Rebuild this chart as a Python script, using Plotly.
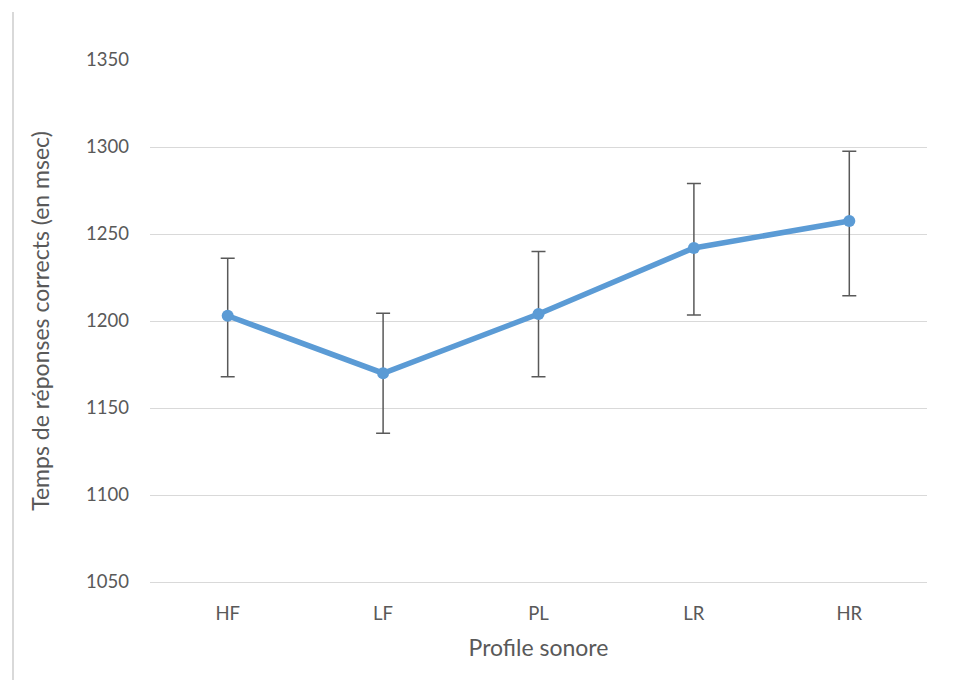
import plotly.graph_objects as go

profiles = ['HF', 'LF', 'PL', 'LR', 'HR']
mean_rt = [1203, 1170, 1204, 1242, 1257.5]
err_plus = [33, 34.5, 36, 37, 40]
err_minus = [35, 34.5, 36, 38.5, 43]

y_ticks = [1050, 1100, 1150, 1200, 1250, 1300, 1350]

font_name = 'Lato, Open Sans, sans-serif'
text_col = '#595959'

fig = go.Figure()
fig.add_trace(go.Scatter(
    x=profiles, y=mean_rt,
    mode='lines+markers',
    line=dict(color='#5B9BD5', width=5.5),
    marker=dict(color='#5B9BD5', size=12),
    error_y=dict(type='data', symmetric=False, array=err_plus, arrayminus=err_minus,
                 color='#595959', thickness=1.5, width=7),
    showlegend=False,
))

# page body has an 8px margin, so the figure is a bit smaller than the window
fig.update_layout(
    width=966, height=672,
    margin=dict(l=142, r=47, t=52, b=98),
    plot_bgcolor='white', paper_bgcolor='white',
    font=dict(family=font_name, size=18.5, color=text_col),
    xaxis=dict(
        title=dict(text='Profile sonore', font=dict(size=23, color=text_col), standoff=16),
        range=[-0.5, 4.5],
        showgrid=False, zeroline=False,
        showline=True, linecolor='#d9d9d9', linewidth=1,
        ticks='', ticklabelstandoff=15,
    ),
    yaxis=dict(
        title=dict(text='Temps de réponses corrects (en msec)', font=dict(size=23, color=text_col), standoff=30),
        range=[1050, 1350], tickvals=y_ticks,
        showgrid=True, gridcolor='#d9d9d9', gridwidth=1,
        zeroline=False, showline=False, ticks='', ticklabelstandoff=20,
    ),
    shapes=[dict(type='line', xref='paper', yref='paper',
                 x0=-0.1763, x1=-0.1763, y0=1.092, y1=-0.3,
                 line=dict(color='#d9d9d9', width=2))],
)

fig.write_html('out.html')
